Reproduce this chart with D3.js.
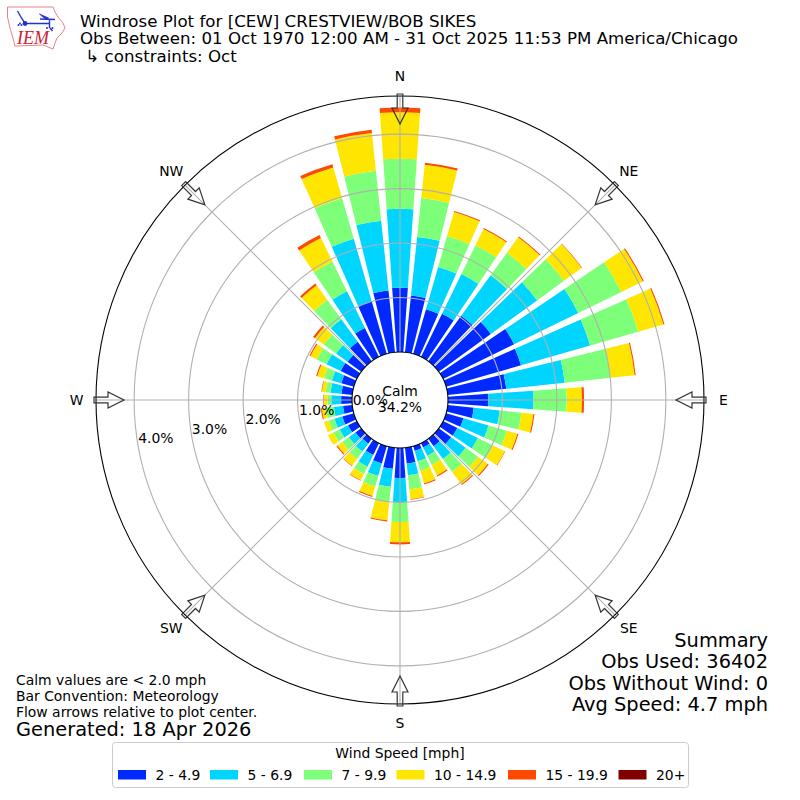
<!DOCTYPE html>
<html>
<head>
<meta charset="utf-8">
<title>Windrose</title>
<script src="https://cdn.jsdelivr.net/npm/d3@7"></script>
<style>
  html, body { margin: 0; padding: 0; background: #fff; }
  text { font-family: "DejaVu Sans", sans-serif; fill: #000; }
</style>
</head>
<body>
<svg id="chart" width="800" height="800"></svg>
<script>
// direction of each bar, degrees clockwise from north
const directions = d3.range(0, 360, 10);
const speedBins = ["2 - 4.9", "5 - 6.9", "7 - 9.9", "10 - 14.9", "15 - 19.9", "20+"];
const binColors = ["#0029ff", "#00d5ff", "#7dff7a", "#ffe600", "#ff4800", "#800000"];

const bin2to5 = [1.18,1.05,0.85,0.88,1.03,1.18,1.45,1.43,1.08,0.74,0.48,0.33,0.29,0.28,0.17,0.09,0.09,0.29,
                 0.55,0.39,0.33,0.24,0.11,0.13,0.18,0.22,0.17,0.20,0.20,0.24,0.33,0.31,0.44,0.59,1.01,1.14];
const bin5to7 = [1.45,1.08,0.81,0.81,0.92,1.05,1.31,1.32,1.08,0.83,0.48,0.48,0.42,0.33,0.29,0.17,0.20,0.22,
                 0.44,0.33,0.24,0.24,0.18,0.15,0.17,0.15,0.17,0.18,0.20,0.18,0.29,0.26,0.51,0.75,1.19,1.29];
const bin7to10 = [0.92,0.72,0.59,0.59,0.51,0.61,0.88,0.92,0.85,0.61,0.40,0.35,0.31,0.28,0.29,0.18,0.18,0.26,
                  0.37,0.29,0.20,0.15,0.17,0.15,0.13,0.11,0.15,0.07,0.09,0.15,0.20,0.28,0.44,0.61,0.77,0.92];
const bin10to15 = [0.85,0.61,0.46,0.33,0.35,0.40,0.44,0.48,0.44,0.28,0.22,0.20,0.24,0.22,0.28,0.22,0.24,0.18,
                   0.37,0.33,0.18,0.13,0.15,0.11,0.11,0.09,0.07,0.07,0.07,0.13,0.13,0.20,0.33,0.48,0.59,0.70];
const bin15to20 = [0.09,0.04,0.02,0.02,0.02,0.01,0.02,0.02,0.02,0.04,0.02,0.02,0.01,0.02,0.02,0.02,0.02,0.01,
                   0.04,0.02,0.02,0.01,0.01,0.02,0,0,0.02,0.01,0.01,0.02,0.02,0.04,0.04,0.06,0.06,0.06];
const bin20up = directions.map(() => 0);

const rTicks = [0, 1, 2, 3, 4];
const compass = ["N", "NE", "E", "SE", "S", "SW", "W", "NW"];

const titleLines = ["Windrose Plot for [CEW] CRESTVIEW/BOB SIKES",
                    "Obs Between: 01 Oct 1970 12:00 AM - 31 Oct 2025 11:53 PM America/Chicago",
                    " \u21b3 constraints: Oct"];
const summaryLines = ["Summary", "Obs Used: 36402", "Obs Without Wind: 0", "Avg Speed: 4.7 mph"];
const noteLines = ["Calm values are < 2.0 mph", "Bar Convention: Meteorology", "Flow arrows relative to plot center."];

const cx = 400, cy = 400;
const svg = d3.select("#chart");
const r = d3.scaleLinear().domain([0, 4.7]).range([48, 304]);
const barWidth = 8 * Math.PI / 180;

const rows = directions.map((d, i) => ({
  dir: d, b0: bin2to5[i], b1: bin5to7[i], b2: bin7to10[i], b3: bin10to15[i], b4: bin15to20[i], b5: bin20up[i]
}));
const stacked = d3.stack().keys(["b0", "b1", "b2", "b3", "b4", "b5"])(rows);
const arc = d3.arc();

const plot = svg.append("g").attr("transform", `translate(${cx},${cy})`);

// bars
plot.selectAll("g.bin").data(stacked).enter().append("g")
  .attr("class", "bin")
  .attr("fill", (s, i) => binColors[i])
  .selectAll("path").data(s => s).enter().append("path")
  .attr("d", d => {
    const a = d.data.dir * Math.PI / 180;
    return arc({ innerRadius: r(d[0]), outerRadius: r(d[1]), startAngle: a - barWidth / 2, endAngle: a + barWidth / 2 });
  });

// grid goes over the bars
plot.selectAll("circle.ring").data(rTicks.slice(1)).enter().append("circle")
  .attr("r", d => r(d)).attr("fill", "none").attr("stroke", "#b0b0b0").attr("stroke-width", 1.1);
const spokes = d3.range(0, 360, 45);
plot.selectAll("line.spoke").data(spokes).enter().append("line")
  .attr("x1", d => r(0) * Math.sin(d * Math.PI / 180))
  .attr("y1", d => -r(0) * Math.cos(d * Math.PI / 180))
  .attr("x2", d => r.range()[1] * Math.sin(d * Math.PI / 180))
  .attr("y2", d => -r.range()[1] * Math.cos(d * Math.PI / 180))
  .attr("stroke", "#b0b0b0").attr("stroke-width", 1.1);

// calm hole and outer frame
plot.append("circle").attr("r", r(0)).attr("fill", "#fff").attr("stroke", "#000").attr("stroke-width", 1.1);
plot.append("circle").attr("r", r.range()[1]).attr("fill", "none").attr("stroke", "#000").attr("stroke-width", 1.1);

// flow arrows, one per compass point
const arrowPts = [[-2.8, -306], [2.8, -306], [2.8, -292], [8, -292], [0, -276], [-8, -292], [-2.8, -292]];
plot.selectAll("path.arrow").data(spokes).enter().append("path")
  .attr("d", d3.line()(arrowPts) + "Z")
  .attr("transform", d => `rotate(${d})`)
  .attr("fill", "none").attr("stroke", "#333").attr("stroke-width", 1.2);

// compass labels
plot.selectAll("text.dir").data(compass).enter().append("text")
  .attr("x", (d, i) => 323.5 * Math.sin(i * Math.PI / 4))
  .attr("y", (d, i) => -323.5 * Math.cos(i * Math.PI / 4) + 4.5)
  .attr("text-anchor", "middle").attr("font-size", 13.9).text(d => d);

// radial tick labels sit along the 260 degree ray
const labelAngle = 260 * Math.PI / 180;
plot.selectAll("text.rtick").data(rTicks).enter().append("text")
  .attr("x", d => r(d) * Math.sin(labelAngle))
  .attr("y", d => -r(d) * Math.cos(labelAngle) - 3)
  .attr("font-size", 13.9).text(d => d.toFixed(1) + "%");

plot.append("text").attr("x", 0).attr("y", -4).attr("text-anchor", "middle").attr("font-size", 13.9).text("Calm");
plot.append("text").attr("x", 0).attr("y", 12).attr("text-anchor", "middle").attr("font-size", 13.9).text("34.2%");

// title
svg.selectAll("text.title").data(titleLines).enter().append("text")
  .attr("x", 80).attr("y", (d, i) => 26.5 + i * 17.6)
  .attr("font-size", 16.67).attr("xml:space", "preserve").style("white-space", "pre").text(d => d);

// summary, lower right
svg.selectAll("text.summary").data(summaryLines).enter().append("text")
  .attr("x", 768).attr("y", (d, i) => 646.5 + i * 21.6)
  .attr("text-anchor", "end").attr("font-size", 19.4).text(d => d);

// notes, lower left
svg.selectAll("text.note").data(noteLines).enter().append("text")
  .attr("x", 16).attr("y", (d, i) => 685 + i * 16)
  .attr("font-size", 13.9).text(d => d);
svg.append("text").attr("x", 16).attr("y", 736).attr("font-size", 19.4).text("Generated: 18 Apr 2026");

// legend
const legend = svg.append("g");
legend.append("rect").attr("x", 112.5).attr("y", 742.5).attr("width", 576).attr("height", 45).attr("rx", 3)
  .attr("fill", "#fff").attr("stroke", "#ccc").attr("stroke-width", 1);
legend.append("text").attr("x", 400).attr("y", 758).attr("text-anchor", "middle").attr("font-size", 13.9).text("Wind Speed [mph]");
const legendX = [118, 210, 304, 396.5, 508, 618.5];
speedBins.forEach((label, i) => {
  legend.append("rect").attr("x", legendX[i]).attr("y", 770).attr("width", 28).attr("height", 9.5).attr("fill", binColors[i]);
  legend.append("text").attr("x", legendX[i] + 37.5).attr("y", 779.5).attr("font-size", 13.9).text(label);
});

// IEM logo
const logo = svg.append("g");
logo.append("path")
  .attr("d", "M7.5 7 L53 7 L55 12 L58 17 L63 23 L65 28 L62 33 L57 38 L55 43 L53 49 L48 47 L43 45 L15 46 L13 38 L10 28 L7.5 17 Z")
  .attr("fill", "#fff").attr("stroke", "#e8757a").attr("stroke-width", 0.9);
logo.append("path")
  .attr("d", "M17.5 11 L21.5 18 L25 23.5 L49.5 23.5 M40 19 L55 19.5 M49.5 19.5 L49.5 28 M50 28 L52.5 31")
  .attr("fill", "none").attr("stroke", "#2233cc").attr("stroke-width", 1.4);
logo.append("path").attr("d", "M39.5 14 L48.5 18 L46 19.5 Z").attr("fill", "#2233cc").attr("stroke", "#2233cc").attr("stroke-width", 0.8);
logo.append("circle").attr("cx", 25).attr("cy", 23.5).attr("r", 2.4).attr("fill", "#2233cc");
logo.selectAll("circle.dot").data([[20, 23.5], [18.5, 25], [21.5, 25], [47, 28], [52.5, 28]]).enter().append("circle")
  .attr("cx", d => d[0]).attr("cy", d => d[1]).attr("r", 1).attr("fill", "#2233cc");
logo.append("text").attr("x", 17).attr("y", 44).attr("font-size", 18)
  .style("font-family", "'Liberation Serif', serif").style("font-style", "italic").style("fill", "#cc2233").text("IEM");
</script>
</body>
</html>
